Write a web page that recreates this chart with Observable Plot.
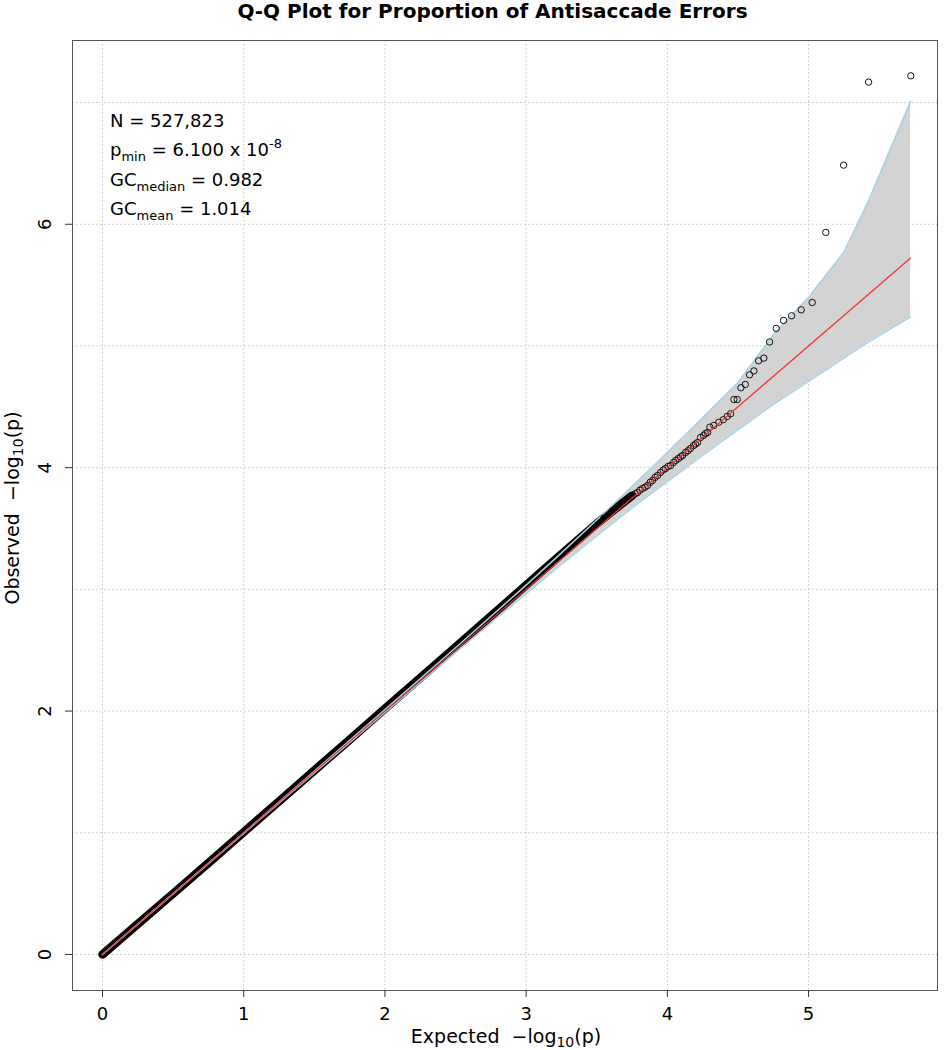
<!DOCTYPE html>
<html><head><meta charset="utf-8">
<script src="https://cdn.jsdelivr.net/npm/d3@7"></script>
<script src="https://cdn.jsdelivr.net/npm/@observablehq/plot@0.6"></script>
<style>
body{margin:0;background:#fff;font-family:"DejaVu Sans",sans-serif;}
#wrap{width:944px;}
#title{height:26px;line-height:22px;font-weight:bold;font-size:20px;text-align:center;padding-left:41px;box-sizing:border-box;width:944px;color:#000;}
</style></head>
<body><div id="wrap"><div id="title">Q-Q Plot for Proportion of Antisaccade Errors</div><div id="chart"></div></div>
<script>
// dense run of overlapping points (expected vs observed -log10 p)
const denseExpected = [0, 0.25, 0.5, 0.75, 1, 1.25, 1.5, 1.75, 2, 2.25, 2.5, 2.75, 3, 3.25, 3.5, 3.65, 3.75];
const denseObserved = [0, 0.25, 0.5, 0.752, 1.005, 1.258, 1.512, 1.765, 2.02, 2.272, 2.525, 2.78, 3.035, 3.29, 3.54, 3.68, 3.77];
// individually visible points in the tail
const tailExpected = [3.55,3.58,3.61,3.64,3.67,3.70,3.73,3.754,3.772,3.789,3.806,3.824,3.842,3.860,3.878,3.895,3.913,3.931,3.952,3.970,3.987,4.005,4.023,4.044,4.060,4.079,4.094,4.108,4.129,4.147,4.164,4.186,4.200,4.214,4.235,4.256,4.270,4.285,4.301,4.329,4.365,4.396,4.424,4.448,4.471,4.495,4.521,4.552,4.582,4.613,4.646,4.683,4.724,4.771,4.823,4.880,4.948,5.026,5.122,5.248,5.425,5.724];
const tailObserved = [3.585,3.61,3.645,3.67,3.70,3.725,3.75,3.772,3.785,3.796,3.815,3.829,3.840,3.854,3.880,3.895,3.920,3.936,3.961,3.980,3.993,4.010,4.018,4.043,4.060,4.076,4.090,4.100,4.125,4.140,4.158,4.182,4.195,4.207,4.248,4.265,4.280,4.289,4.333,4.347,4.374,4.394,4.421,4.443,4.560,4.560,4.657,4.684,4.763,4.795,4.878,4.900,5.033,5.144,5.210,5.248,5.297,5.357,5.933,6.486,7.168,7.220];
// 95% confidence band
const bandExpected = [0, 1, 2, 2.5, 3, 3.25, 3.5, 3.75, 4, 4.25, 4.5, 4.75, 5, 5.25, 5.42, 5.7225];
const bandUpper = [0, 1.0, 2.012, 2.52, 3.035, 3.30, 3.57, 3.845, 4.125, 4.41, 4.70, 5.09, 5.40, 5.77, 6.18, 7.01];
const bandLower = [0, 0.995, 1.988, 2.482, 2.965, 3.205, 3.44, 3.67, 3.885, 4.10, 4.31, 4.52, 4.71, 4.90, 5.03, 5.24];
const refLine = [0, 5.7225];
const xTicks = [0, 1, 2, 3, 4, 5];
const yTicks = [0, 2, 4, 6];
const xGrid = [0, 1, 2, 3, 4, 5];
const yGrid = [0, 1, 2, 3, 4, 5, 6, 7];
const statN = "527,823";
const statPmin = "6.100";
const statPminExp = "-8";
const statGCmedian = "0.982";
const statGCmean = "1.014";

const dense = denseExpected.map((x, i) => ({x, y: denseObserved[i]}));
const tail = tailExpected.map((x, i) => ({x, y: tailObserved[i]}));
const band = bandExpected.map((x, i) => ({x, hi: bandUpper[i], lo: bandLower[i]}));
const ref = refLine.map(v => ({x: v, y: v}));

const gridStyle = {stroke: "#c4c4c4", strokeOpacity: 1, strokeWidth: 1, strokeDasharray: "1.5,2.5"};
const plot = Plot.plot({
  width: 944, height: 1024,
  marginTop: 14, marginBottom: 60, marginLeft: 72, marginRight: 7,
  style: {fontFamily: "DejaVu Sans", fontSize: "18px", color: "#000", background: "#fff"},
  x: {domain: [-0.2125, 5.913]},
  y: {domain: [-0.296, 7.51]},
  marks: [
    Plot.gridX(xGrid, gridStyle),
    Plot.gridY(yGrid, gridStyle),
    Plot.areaY(band, {x: "x", y1: "lo", y2: "hi", fill: "#d3d3d3"}),
    Plot.line(dense, {x: "x", y: "y", stroke: "#000", strokeWidth: 8.5, strokeLinecap: "round"}),
    Plot.line(band, {x: "x", y: "hi", stroke: "#a8d4e6", strokeWidth: 1.5}),
    Plot.line(band, {x: "x", y: "lo", stroke: "#a8d4e6", strokeWidth: 1.5}),
    Plot.dot(tail, {x: "x", y: "y", r: 3.2, stroke: "#111", strokeWidth: 1, fill: "none"}),
    Plot.line(ref, {x: "x", y: "y", stroke: "#ee3333", strokeWidth: 1.2}),
    Plot.frame({stroke: "#555"}),
    Plot.axisX(xTicks, {tickSize: 7, tickPadding: 10, fontSize: 18, label: null, stroke: "#333", tickFormat: d => String(d)}),
    Plot.axisY(yTicks, {tickSize: 7, tickPadding: 15, tickRotate: -90, fontSize: 18, label: null, stroke: "#333", tickFormat: d => String(d)})
  ]
});
document.getElementById("chart").appendChild(plot);

const svg = d3.select(plot);
// axis titles
const xl = svg.append("text").attr("x", 506).attr("y", 1017).attr("text-anchor", "middle")
  .style("font-size", "19px").style("white-space", "pre").attr("fill", "#000");
xl.append("tspan").text("Expected  \u2212log");
xl.append("tspan").attr("dy", 4).style("font-size", "14px").text("10");
xl.append("tspan").attr("dy", -4).text("(p)");

const yl = svg.append("text").attr("transform", "translate(19,482) rotate(-90)").attr("text-anchor", "middle")
  .style("font-size", "19px").style("white-space", "pre").attr("fill", "#000");
yl.append("tspan").text("Observed  \u2212log");
yl.append("tspan").attr("dy", 4).style("font-size", "14px").text("10");
yl.append("tspan").attr("dy", -4).text("(p)");

// annotation block
const ax = 110;
const ann = svg.append("g").style("font-size", "18px").attr("fill", "#000").attr("text-anchor", "start");
ann.append("text").attr("x", ax).attr("y", 101).attr("text-anchor", "start").text("N = " + statN);
const t2 = ann.append("text").attr("x", ax).attr("y", 130).attr("text-anchor", "start");
t2.append("tspan").text("p");
t2.append("tspan").attr("dy", 5).style("font-size", "13px").text("min");
t2.append("tspan").attr("dy", -5).text(" = " + statPmin + " x 10");
t2.append("tspan").attr("dy", -8).style("font-size", "13px").text(statPminExp);
const t3 = ann.append("text").attr("x", ax).attr("y", 160).attr("text-anchor", "start");
t3.append("tspan").text("GC");
t3.append("tspan").attr("dy", 5).style("font-size", "13px").text("median");
t3.append("tspan").attr("dy", -5).text(" = " + statGCmedian);
const t4 = ann.append("text").attr("x", ax).attr("y", 189).attr("text-anchor", "start");
t4.append("tspan").text("GC");
t4.append("tspan").attr("dy", 5).style("font-size", "13px").text("mean");
t4.append("tspan").attr("dy", -5).text(" = " + statGCmean);
</script>
</body></html>
